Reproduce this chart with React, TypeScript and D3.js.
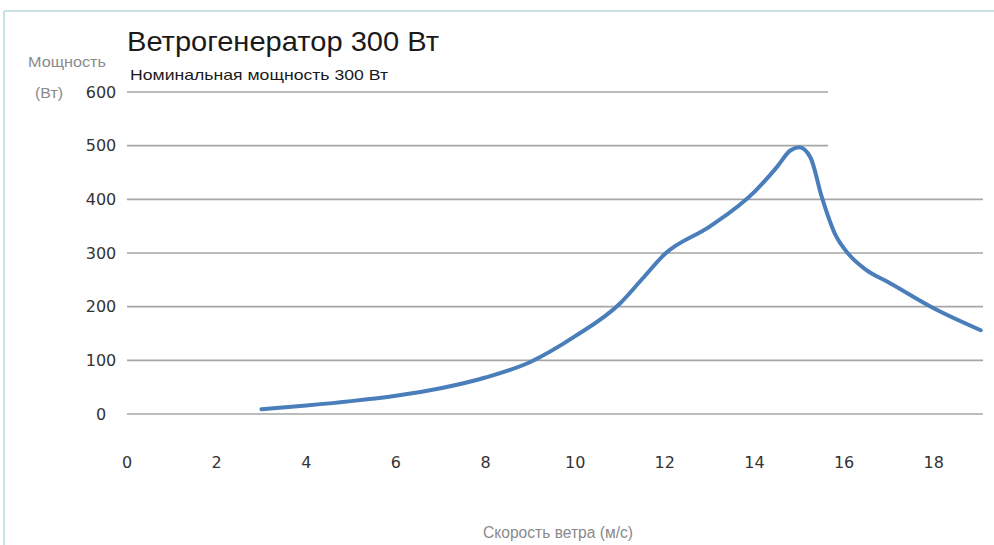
import React from 'react';
import * as d3 from 'd3';

// wind speed (m/s) -> power (W)
const windSpeed = [3, 4, 5, 6, 7, 8, 9, 10, 11, 11.5, 12, 13, 14, 14.5, 14.8, 15.0, 15.25, 15.5, 15.8, 16.1, 16.5, 17, 18, 19.05];
const power = [9, 16, 24, 34, 48, 68, 97, 145, 206, 252, 298, 349, 414, 460, 491, 497, 478, 405, 335, 298, 268, 245, 197, 156];

const yTicks = [0, 100, 200, 300, 400, 500, 600];
const xTicks = [0, 2, 4, 6, 8, 10, 12, 14, 16, 18];

const title = 'Ветрогенератор 300 Вт';
const subtitle = 'Номинальная мощность 300 Вт';
const yTitle = ['Мощность', '(Вт)'];
const xTitle = 'Скорость ветра (м/с)';

const W = 994;
const H = 545;

export default function App() {
	const x = d3.scaleLinear().domain([0, 19.1]).range([127, 983]);
	const y = d3.scaleLinear().domain([0, 600]).range([414, 92]);

	const points = windSpeed.map((s, i) => [s, power[i]] as [number, number]);
	const line = d3.line<[number, number]>()
		.x(d => x(d[0]))
		.y(d => y(d[1]))
		.curve(d3.curveMonotoneX);

	const sans = 'Liberation Sans, Arial, sans-serif';

	return (
		<svg width={W} height={H} style={{ position: 'absolute', left: 0, top: 0, background: '#fff' }}>
			{/* frame */}
			<line x1={4} x2={W} y1={11} y2={11} stroke="#b9d7de" strokeWidth={1.5} />
			<line x1={4} x2={4} y1={11} y2={H} stroke="#b9d7de" strokeWidth={1.5} />

			{/* grid */}
			{yTicks.map(t => (
				<line key={t} x1={x(0)} x2={t >= 500 ? 828 : x(19.1)} y1={y(t)} y2={y(t)}
					stroke="#a6a6a6" strokeWidth={1.6} />
			))}

			{/* y tick labels */}
			{yTicks.map(t => (
				<text key={t} x={101} y={y(t)} dy="0.35em" textAnchor="middle"
					fontFamily="DejaVu Sans, sans-serif" fontSize={16} fill="#333">{t}</text>
			))}

			{/* x tick labels */}
			{xTicks.map(t => (
				<text key={t} x={x(t)} y={462} dy="0.35em" textAnchor="middle"
					fontFamily="DejaVu Sans, sans-serif" fontSize={16} fill="#333">{t}</text>
			))}

			<path d={line(points) || ''} fill="none" stroke="#4a7ebb" strokeWidth={4} strokeLinecap="round" strokeLinejoin="round" />

			<text x={127} y={51} fontFamily={sans} fontSize={28} textLength={312} lengthAdjust="spacingAndGlyphs" fill="#1a1a1a">{title}</text>
			<text x={130} y={80} fontFamily={sans} fontSize={15} textLength={258} lengthAdjust="spacingAndGlyphs" fill="#1a1a1a">{subtitle}</text>
			<text x={28} y={67} fontFamily={sans} fontSize={15} textLength={78} lengthAdjust="spacingAndGlyphs" fill="#8a8a8a">{yTitle[0]}</text>
			<text x={35} y={98} fontFamily={sans} fontSize={15} textLength={28} lengthAdjust="spacingAndGlyphs" fill="#8a8a8a">{yTitle[1]}</text>
			<text x={483} y={538} fontFamily={sans} fontSize={16} textLength={150} lengthAdjust="spacingAndGlyphs" fill="#8a8a8a">{xTitle}</text>
		</svg>
	);
}
